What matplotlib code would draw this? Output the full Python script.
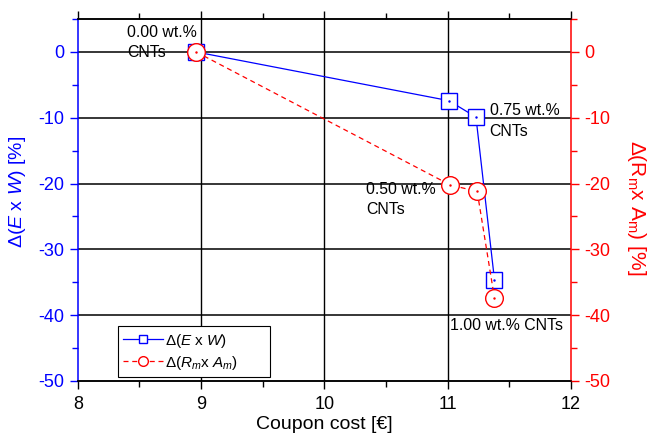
import numpy as np
import matplotlib
matplotlib.use("Agg")
import matplotlib.pyplot as plt
from matplotlib.ticker import MultipleLocator

plt.rcParams['font.family'] = ['Liberation Sans', 'DejaVu Sans']
plt.rcParams['mathtext.fontset'] = 'custom'
plt.rcParams['mathtext.rm'] = 'Liberation Sans'
plt.rcParams['mathtext.it'] = 'Liberation Sans:italic'
plt.rcParams['mathtext.default'] = 'regular'
plt.rcParams['axes.unicode_minus'] = False

#==# DATA #==#
cost = [8.96, 11.01, 11.23, 11.38]          # coupon cost [EUR]
cost_rm = [8.96, 11.02, 11.24, 11.38]
d_ew = [0.0, -7.4, -9.9, -34.6]             # change of E x W [%]
d_rmam = [0.0, -20.2, -21.2, -37.4]         # change of Rm x Am [%]

labels = ['0.00 wt.%\nCNTs', '0.50 wt.%\nCNTs', '0.75 wt.%\nCNTs', '1.00 wt.% CNTs']
label_pos = [(8.40, 1.4), (10.34, -22.4), (11.34, -10.5), (11.02, -41.5)]

blue = '#0000ff'
red = '#ff0000'

fig = plt.figure(figsize=(6.48, 4.43), dpi=100)
ax = fig.add_axes([0.120, 0.140, 0.761, 0.817])
ax2 = ax.twinx()

#==# grid #==#
for yv in range(-40, 5, 10):
    ax.axhline(yv, color='black', lw=1.1, zorder=0)
for xv in [9, 10, 11]:
    ax.axvline(xv, color='black', lw=1.0, zorder=0)

l1, = ax.plot(cost, d_ew, '-', color=blue, lw=0.9, marker='s', ms=11,
              mfc='white', mec=blue, mew=1.0, zorder=3,
              label=r'$\Delta$($\it{E}$ x $\it{W}$)')
ax.plot(cost, d_ew, '.', color=blue, ms=1.5, zorder=4)
l2, = ax2.plot(cost_rm, d_rmam, '--', color=red, lw=0.9, dashes=(4, 3),
               marker='o', ms=12.7, mfc='white', mec=red, mew=1.0, zorder=3,
               label=r'$\Delta$($\it{R_m}$x $\it{A_m}$)')
ax2.plot(cost_rm, d_rmam, '.', color=red, ms=1.5, zorder=4)

for txt, (x, y) in zip(labels, label_pos):
    ax2.text(x, y, txt, fontsize=11.4, ha='left', va='center', linespacing=1.45, zorder=5)

#==# axes #==#
ax.set_xlim(8, 12)
ax.set_ylim(-50, 5)
ax2.set_ylim(-50, 5)

ax.xaxis.set_major_locator(MultipleLocator(1))
ax.xaxis.set_minor_locator(MultipleLocator(0.5))
ax.yaxis.set_minor_locator(MultipleLocator(5))
ax2.yaxis.set_minor_locator(MultipleLocator(5))
ax.set_yticks(range(-50, 1, 10))
ax2.set_yticks(range(-50, 1, 10))

ax.tick_params(axis='x', which='both', direction='out', top=True, labeltop=False,
               labelsize=13, pad=5)
ax.tick_params(axis='x', which='major', length=6, width=1)
ax.tick_params(axis='x', which='minor', length=4, width=1)
ax.tick_params(axis='y', which='both', direction='out', colors=blue, labelsize=13)
ax.tick_params(axis='y', which='major', length=6, width=1)
ax.tick_params(axis='y', which='minor', length=4, width=1)
ax2.tick_params(axis='y', which='both', direction='out', colors=red, labelsize=13)
ax2.tick_params(axis='y', which='major', length=6, width=1)
ax2.tick_params(axis='y', which='minor', length=4, width=1)

ax.spines['left'].set_color(blue)
ax2.spines['left'].set_visible(False)
ax2.spines['right'].set_color(red)
ax.spines['right'].set_visible(False)
for sp in ['left', 'right', 'top', 'bottom']:
    ax.spines[sp].set_linewidth(1.1)
    ax2.spines[sp].set_linewidth(1.1)

ax.set_xlabel('Coupon cost [€]', fontsize=14, labelpad=2)
ax.set_ylabel(r'$\Delta$($\it{E}$ x $\it{W}$) [%]', fontsize=14, color=blue)
ax.yaxis.set_label_coords(-0.101, 0.522)
ax2.set_ylabel(r'$\Delta$(R$_m$x A$_m$) [%]', fontsize=15, color=red,
               rotation=-90, va='bottom')
ax2.yaxis.set_label_coords(1.110, 0.478)

leg = ax2.legend(handles=[l1, l2], loc='lower left',
                 bbox_to_anchor=(0.081, 0.011, 0.308, 0.144), mode='expand',
                 borderaxespad=0, fontsize=11, frameon=True, fancybox=False,
                 edgecolor='black', handlelength=2.6, markerscale=0.55,
                 labelspacing=0.25, borderpad=0.35, handletextpad=0.15, framealpha=1)
leg.get_frame().set_linewidth(0.8)
leg.set_zorder(10)

fig.savefig('out.png', dpi=100)
